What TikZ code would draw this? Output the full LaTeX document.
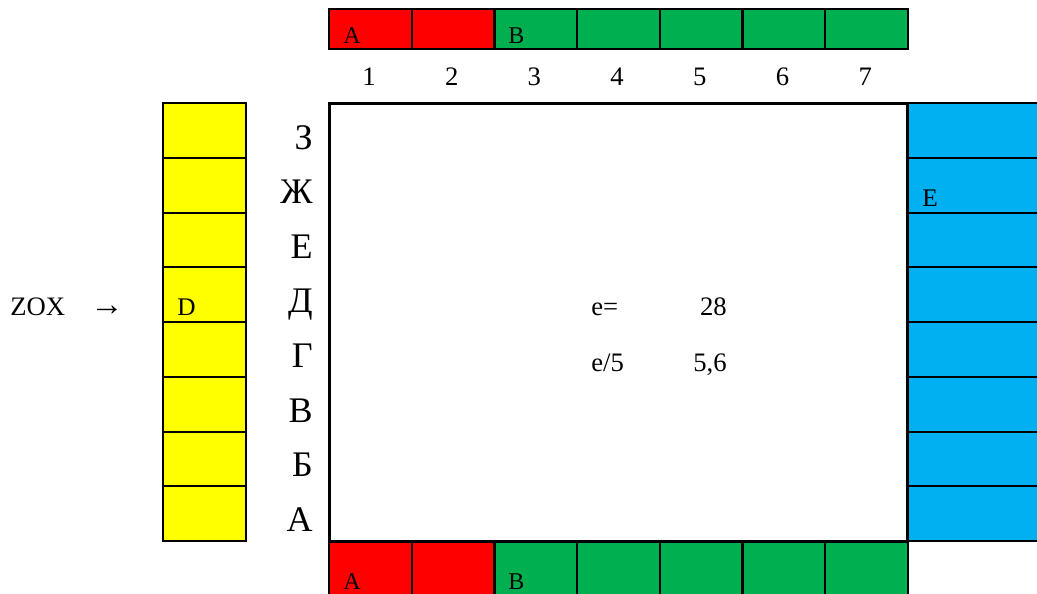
\documentclass[tikz,border=0pt]{standalone}
\usepackage{fontspec}
\setmainfont{Liberation Serif}
\usetikzlibrary{positioning}
\definecolor{barred}{HTML}{FF0000}
\definecolor{bargreen}{HTML}{00B050}
\definecolor{sideyellow}{HTML}{FFFF00}
\definecolor{sideblue}{HTML}{00B0F0}

\begin{document}
\begin{tikzpicture}[x=0.75pt, y=-0.75pt,
    cell/.style={rectangle, draw, line width=1.6pt, inner sep=0pt, anchor=north west, minimum width=62pt},
    barcell/.style={cell, minimum height=30pt},
    sidecell/.style={cell, minimum height=41.06pt},
    rowlabel/.style={anchor=base east, inner sep=0pt, font=\fontsize{27}{27}\selectfont},
    collabel/.style={anchor=base, inner sep=0pt, font=\fontsize{20}{20}\selectfont},
    tag/.style={anchor=base west, inner sep=0pt, font=\fontsize{18}{18}\selectfont},
    value/.style={inner sep=0pt, font=\fontsize{20}{20}\selectfont}]

    \useasboundingbox (0,0) rectangle (1037,593);
    \clip (0,0) rectangle (1037,593);

    % bars above and below the board
    \foreach \i/\c in {1/barred,2/barred,3/bargreen,4/bargreen,5/bargreen,6/bargreen,7/bargreen} {
        \node[barcell, fill=\c] (top\i) at ({328+82.7*(\i-1)},8) {};
        \node[barcell, fill=\c, minimum height=45pt] (bot\i) at ({328+82.7*(\i-1)},540) {};
        \node[collabel] (num\i) at ({369+82.7*(\i-1)},85) {\i};
    }

    % side columns and row letters
    \foreach \r/\l in {0/З,1/Ж,2/Е,3/Д,4/Г,5/В,6/Б,7/А} {
        \node[sidecell, fill=sideyellow] (left\r) at (162,{102+54.75*\r}) {};
        \node[sidecell, fill=sideblue, minimum width=110pt] (right\r) at (907,{102+54.75*\r}) {};
        \node[rowlabel] (row\r) at (313,{149+54.6*\r}) {\l};
    }

    \node[draw, line width=2.2pt, anchor=north west, inner sep=0pt, minimum width=433.5pt, minimum height=328.5pt] (board) at (328,102) {};

    \node[tag] (topA) at (343,43) {A};
    \node[tag] (topB) at (508,43) {B};
    \node[tag] (botA) at (343,589) {A};
    \node[tag] (botB) at (508,589) {B};
    \node[tag, font=\fontsize{19}{19}\selectfont] (tagD) at (177,315) {D};
    \node[tag, font=\fontsize{19}{19}\selectfont] (tagE) at (922,206) {E};

    \node[tag, font=\fontsize{20}{20}\selectfont] (zox) at (10,315) {ZOX};
    \node[anchor=base, inner sep=0pt, font=\fontsize{25}{25}\selectfont] (zoxarrow) at (107,315) {→};

    \node[value, anchor=base west] (e) at (591,315) {e=};
    \node[value, anchor=base east] (eval) at (727,315) {28};
    \node[value, anchor=base west] (efifth) at (591,371) {e/5};
    \node[value, anchor=base east] (efifthval) at (727,371) {5,6};
\end{tikzpicture}
\end{document}
